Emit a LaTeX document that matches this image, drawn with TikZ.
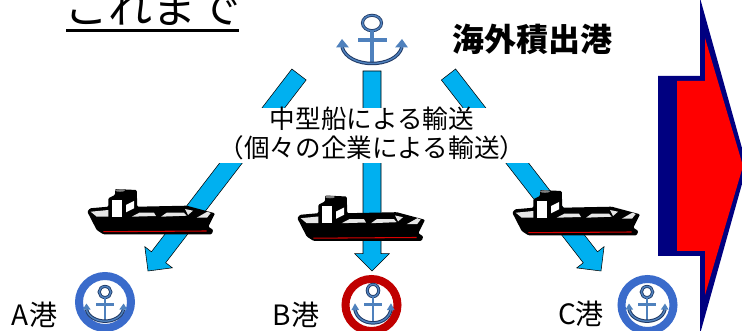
\documentclass[tikz,border=0pt]{standalone}
\usepackage{fontspec}
\usepackage{xcolor}
\setmainfont{Noto Sans CJK JP}
\usetikzlibrary{calc}
\definecolor{routeCyan}{HTML}{00B0F0}
\definecolor{anchorBlue}{HTML}{4F81BD}
\definecolor{anchorEdge}{HTML}{1F3864}
\definecolor{portBlue}{HTML}{3A6BCB}
\definecolor{portRed}{HTML}{C00000}
\definecolor{shiftNavy}{HTML}{000080}
\definecolor{holdGrey}{HTML}{E6E6E6}
\newcommand{\routearrow}[2]{%
  \coordinate (headbase) at ($(#2)!13pt!(#1)$);
  \draw[route] ($(#1)!6.75pt!90:(#2)$) -- ($(headbase)!6.75pt!90:(#2)$)
    -- ($(headbase)!13pt!90:(#2)$) -- (#2) -- ($(headbase)!13pt!-90:(#2)$)
    -- ($(headbase)!6.75pt!-90:(#2)$) -- ($(#1)!6.75pt!-90:(#2)$) -- cycle;
}
\tikzset{
  pics/harbour/.style={code={
    \draw[anchorEdge, line width=2.3pt] (0,0) ellipse (9.5 and 7.7);
    \draw[anchorBlue, line width=1.1pt] (0,0) ellipse (9.5 and 7.7);
    \fill[anchorBlue] (-2.4,8) rectangle (2.4,39);
    \fill[anchorBlue] (-14.5,15) rectangle (15,19.5);
    \draw[anchorEdge, line width=2.6pt] (-30,24) .. controls (-24,46) and (24,46) .. (30,24);
    \draw[anchorBlue, line width=1.1pt] (-30,24) .. controls (-24,46) and (24,46) .. (30,24);
    \fill[anchorBlue] (-36,24.5) -- (-30,16) -- (-23,24.5) -- cycle;
    \fill[anchorBlue] (23,24.5) -- (30,16) -- (36,24.5) -- cycle;
  }},
  pics/freighter/.style={code={
    \fill[black, rounded corners=0.8pt] (-0.7,1.7) -- (2,-1.7) -- (20.3,-3.3) -- (20.3,-11.7)
      -- (27,-15) -- (27,-21) -- (48.7,-20) -- (49.3,-3.3) -- (98.7,-4.3) -- (127,3.3)
      -- (120.3,16.7) -- (125.3,20) -- (123.7,24.3) -- (15.3,24.3) -- (8.7,20) -- cycle;
    \fill[gray] (32,-19.5) ellipse (5 and 1.3);
    \fill[holdGrey] (2.7,1.7) -- (20.3,0) -- (20.3,6.7) -- (8.7,6.7) -- cycle;
    \fill[white] (23.7,-10) rectangle (33.7,6.7);
    \fill[white] (38,-5) -- (46,-9) -- (46,-1.7) -- (38,2.3) -- cycle;
    \fill[holdGrey] (43.7,6.7) -- (51.3,2.7) -- (66,2.7) -- (68,6) -- cycle;
    \fill[holdGrey] (73,6.7) -- (78.7,2.7) -- (96,2.7) -- (98.7,5.7) -- cycle;
    \fill[holdGrey] (97,-1) -- (105,0.7) -- (100,5) -- cycle;
    \fill[holdGrey] (108.7,7.7) -- (119.3,1.7) -- (122.7,3) -- (119,7.7) -- cycle;
    \draw[red!85!black, line width=0.8pt] (15.3,21.7) -- (118.7,21);
  }}
}
\begin{document}
\begin{tikzpicture}[
  x=0.75pt, y=-0.75pt,
  route/.style={draw=black, line width=0.4pt, fill=routeCyan, line join=miter},
  port/.style={circle, draw=#1, line width=6pt, minimum size=39pt, inner sep=0pt},
  portlabel/.style={font=\fontsize{21}{24}\selectfont, inner sep=0pt},
  caption/.style={align=center, inner sep=0pt, font=\fontsize{19.2}{21.75}\selectfont}
]
\useasboundingbox (0,0) rectangle (742,331);
% supply routes from the overseas harbour
\coordinate (startA) at (299,74.5);
\coordinate (startB) at (372,71);
\coordinate (startC) at (448.5,74.5);
\coordinate (endA) at (148,271);
\coordinate (endB) at (372,271);
\coordinate (endC) at (601,271);
\routearrow{startA}{endA}
\routearrow{startB}{endB}
\routearrow{startC}{endC}
\fill[white] (215,108) rectangle (532,163);
\node[caption] (transport) at (372,133.5) {中型船による輸送\\（個々の企業による輸送）};
\node[font=\fontsize{33}{36}\selectfont, inner sep=0pt] (title) at (152.5,7) {これまで};
\draw[line width=2.4pt] (66,30.5) -- (239,30.5);
\pic at (372,23) {harbour};
\node[font=\fontsize{24}{28}\selectfont\bfseries, inner sep=0pt] (overseas) at (532,39) {海外積出港};
\pic at (88,210) {freighter};
\pic at (298,216.5) {freighter};
\pic at (513,211) {freighter};
\node[port=portBlue] (portA) at (105,302) {};
\node[port=portRed] (portB) at (371.5,305) {};
\node[port=portBlue] (portC) at (647.5,305) {};
\pic[xscale=0.62, yscale=0.72] at (105,292) {harbour};
\pic[xscale=0.6, yscale=0.8] at (373,290.5) {harbour};
\pic[xscale=0.6, yscale=0.72] at (647,292) {harbour};
\node[portlabel] (labelA) at (34.5,315) {A港};
\node[portlabel] (labelB) at (296,315) {B港};
\node[portlabel] (labelC) at (581,314) {C港};
% block arrow on the right edge
\fill[shiftNavy] (658,76) -- (700,76) -- (700,-2) -- (747,166) -- (700,334) -- (700,256) -- (658,256) -- cycle;
\fill[red] (677,81) -- (705,81) -- (705,38) -- (743,166) -- (705,295) -- (705,251) -- (677,251) -- cycle;
\end{tikzpicture}
\end{document}
